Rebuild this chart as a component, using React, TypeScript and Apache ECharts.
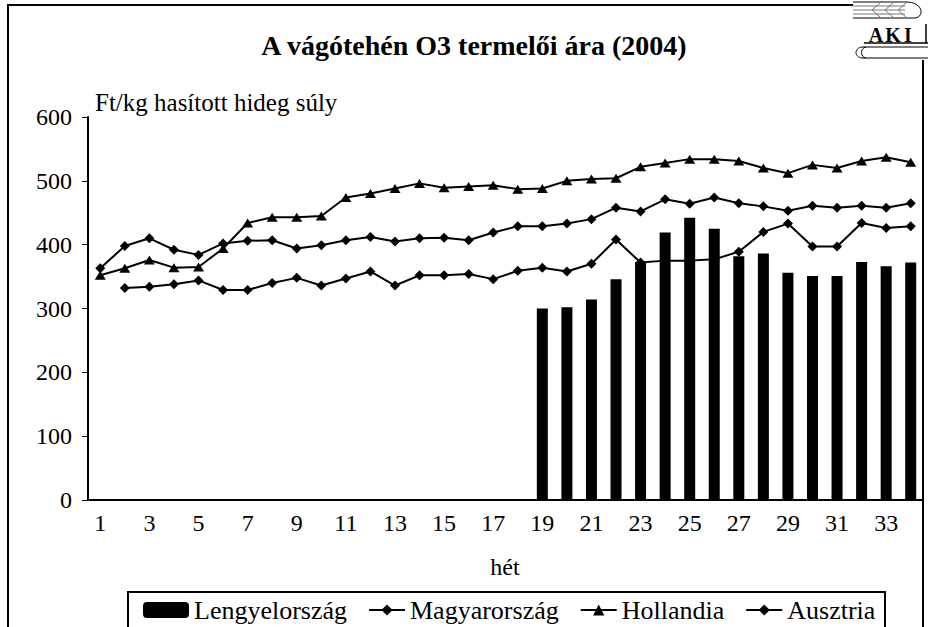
import React, { useEffect, useRef } from "react";
import * as echarts from "echarts";

const weeks: string[] = Array.from({ length: 34 }, (_, i) => String(i + 1));
const poland: (number | null)[] = [
  null, null, null, null, null, null, null, null, null, null, null, null, null, null, null, null, null, null,
  300, 302, 314, 346, 373, 419, 442, 425, 382, 386, 356, 351, 351, 373, 366, 372,
];
const hungary: (number | null)[] = [
  null, 332, 334, 338, 344, 329, 329, 340, 348, 336, 347, 358, 336, 352, 352, 354, 346, 359, 364, 358, 370, 408,
  372, 375, 375, 377, 389, 420, 433, 397, 397, 434, 426, 429,
];
const netherlands: number[] = [
  352, 363, 376, 364, 365, 394, 434, 443, 443, 445, 474, 480, 488, 496, 489, 491, 493, 487, 488, 500, 503, 504,
  522, 528, 534, 534, 531, 520, 512, 525, 520, 531, 537, 529,
];
const austria: number[] = [
  363, 398, 410, 392, 384, 402, 406, 407, 394, 399, 407, 412, 405, 410, 411, 407, 419, 429, 429, 433, 440, 458,
  452, 471, 464, 474, 465, 460, 453, 461, 458, 461, 458, 465,
];
const seriesNames = ["Lengyelország", "Magyarország", "Hollandia", "Ausztria"];
const titleText = "A vágótehén O3 termelői ára (2004)";
const yName = "Ft/kg hasított hideg súly";
const xName = "hét";

const FONT = "Liberation Serif";

export default function App() {
  const ref = useRef<HTMLDivElement>(null);
  useEffect(() => {
    if (!ref.current) return;
    const chart = echarts.init(ref.current, undefined, { renderer: "svg" });
    const lineCommon = {
      type: "line" as const,
      z: 2,
      color: "#000",
      lineStyle: { color: "#000", width: 2 },
      itemStyle: { color: "#000" },
      connectNulls: false,
    };
    const txt = (x: number, y: number, text: string, size: number, bold = false, align = "center") => ({
      type: "text",
      x,
      y,
      style: {
        text,
        fill: "#000",
        fontFamily: FONT,
        fontSize: size,
        fontWeight: bold ? "bold" : "normal",
        align,
        verticalAlign: "middle",
      },
    });
    const ln = (x1: number, y1: number, x2: number, y2: number, w = 1, c = "#000") => ({
      type: "line",
      shape: { x1, y1, x2, y2 },
      style: { stroke: c, lineWidth: w },
    });
    const legendText = { color: "#000", fontSize: 26, fontFamily: FONT };
    chart.setOption({
      animation: false,
      backgroundColor: "#fff",
      textStyle: { fontFamily: FONT },
      grid: { left: 88, top: 117, width: 835, height: 383 },
      xAxis: {
        type: "category",
        data: weeks,
        boundaryGap: true,
        axisLine: { lineStyle: { color: "#000", width: 2 } },
        axisTick: { interval: 0, length: 6, lineStyle: { color: "#000", width: 1 } },
        axisLabel: { interval: 1, color: "#000", fontSize: 24, fontFamily: FONT, margin: 11 },
        splitLine: { show: false },
      },
      yAxis: {
        type: "value",
        min: 0,
        max: 600,
        interval: 100,
        axisLine: { show: true, lineStyle: { color: "#000", width: 2 } },
        axisTick: { show: true, length: 6, lineStyle: { color: "#000", width: 1 } },
        axisLabel: { color: "#000", fontSize: 24, fontFamily: FONT, margin: 16 },
        splitLine: { show: false },
      },
      legend: [
        {
          left: 143,
          top: 597,
          padding: 0,
          itemWidth: 46,
          itemHeight: 16,
          data: [seriesNames[0]],
          textStyle: legendText,
        },
        {
          left: 368,
          top: 597,
          padding: 0,
          itemWidth: 36,
          itemHeight: 14,
          itemGap: 21,
          data: seriesNames.slice(1),
          textStyle: legendText,
        },
      ],
      series: [
        {
          name: seriesNames[0],
          type: "bar",
          data: poland,
          barWidth: 11,
          z: 3,
          itemStyle: { color: "#000" },
        },
        { ...lineCommon, name: seriesNames[1], data: hungary, symbol: "diamond", symbolSize: 10 },
        { ...lineCommon, name: seriesNames[2], data: netherlands, symbol: "triangle", symbolSize: [11, 9] },
        { ...lineCommon, name: seriesNames[3], data: austria, symbol: "diamond", symbolSize: 10 },
      ],
      graphic: [
        ln(8, 5, 8, 640, 2),
        ln(7, 5, 860, 5, 2),
        ln(923, 55, 923, 640, 2),
        ln(128, 592, 885, 592, 2),
        ln(128, 591, 128, 640, 2),
        ln(885, 591, 885, 640, 2),
        txt(474, 45, titleText, 28, true),
        txt(95, 102, yName, 25, false, "left"),
        txt(505, 567, xName, 24),
        // logo
        {
          type: "group",
          z: 10,
          children: [
            { type: "rect", shape: { x: 853, y: 0, width: 75, height: 60 }, style: { fill: "#fff" } },
            ln(853, 2, 908, 2, 1),
            ln(853, 6, 905, 6, 1, "#777"),
            ln(853, 10, 905, 10, 1, "#777"),
            ln(853, 14, 905, 14, 1, "#777"),
            ln(853, 18, 916, 18, 1),
            {
              type: "polyline",
              shape: { points: [[880, 3], [872, 10], [880, 17]] },
              style: { stroke: "#777", fill: "none", lineWidth: 1 },
            },
            {
              type: "polyline",
              shape: { points: [[893, 3], [885, 10], [893, 17]] },
              style: { stroke: "#777", fill: "none", lineWidth: 1 },
            },
            {
              type: "polyline",
              shape: { points: [[906, 3], [898, 10], [906, 17]] },
              style: { stroke: "#777", fill: "none", lineWidth: 1 },
            },
            {
              type: "bezierCurve",
              shape: { x1: 908, y1: 2, x2: 916, y2: 18, cpx1: 922, cpy1: 3, cpx2: 925, cpy2: 15 },
              style: { stroke: "#000", fill: "none", lineWidth: 1 },
            },
            txt(876, 35, "A", 20, true),
            txt(893, 35, "K", 20, true),
            txt(908, 35, "I", 20, true),
            ln(864, 43, 928, 43, 1.5),
            ln(926, 24, 926, 43, 1.5),
            ln(862, 47, 928, 47, 1),
            ln(862, 58, 928, 58, 1),
            {
              type: "bezierCurve",
              shape: { x1: 862, y1: 47, x2: 862, y2: 58, cpx1: 854, cpy1: 48, cpx2: 854, cpy2: 57 },
              style: { stroke: "#000", fill: "none", lineWidth: 1 },
            },
            {
              type: "bezierCurve",
              shape: { x1: 866, y1: 47, x2: 866, y2: 58, cpx1: 860, cpy1: 48, cpx2: 860, cpy2: 57 },
              style: { stroke: "#000", fill: "none", lineWidth: 1 },
            },
          ],
        },
      ],
    });
    return () => chart.dispose();
  }, []);
  return (
    <div
      ref={ref}
      style={{ position: "fixed", left: 0, top: 0, width: 928, height: 627, background: "#fff" }}
    />
  );
}
